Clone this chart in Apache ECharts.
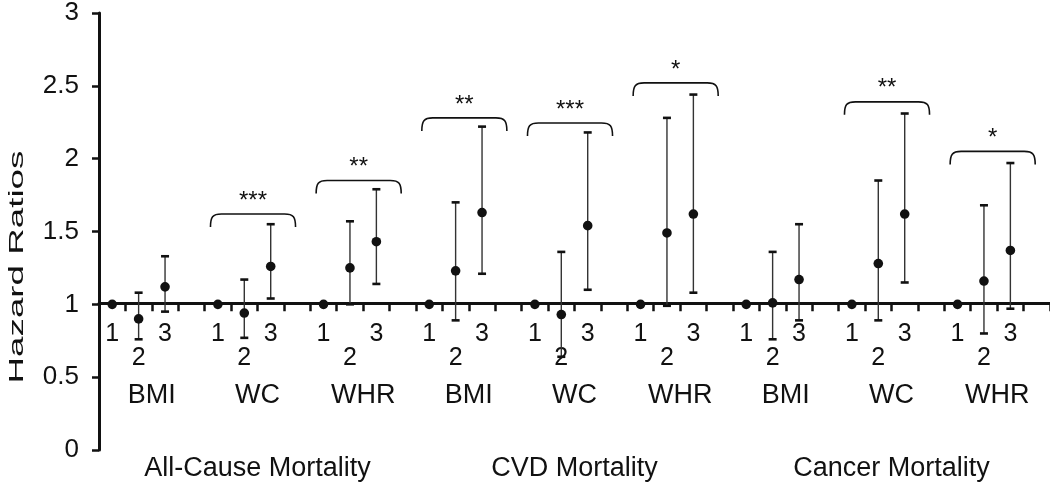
<!DOCTYPE html>
<html>
<head>
<meta charset="utf-8">
<script src="https://cdn.jsdelivr.net/npm/echarts@6/dist/echarts.min.js"></script>
<style>
  html, body { margin: 0; background: #fff; }
  #chart { width: 1050px; height: 487px; }
</style>
</head>
<body>
<div id="chart"></div>
<script>
// tertile slots in each group (4th slot is the gap between groups)
const slotLabels = ['1', '2', '3', ''];
const measures = ['BMI', 'WC', 'WHR', 'BMI', 'WC', 'WHR', 'BMI', 'WC', 'WHR'];
const outcomes = ['All-Cause Mortality', 'CVD Mortality', 'Cancer Mortality'];

// tertile 1 is the reference (HR = 1)
const hr2 = [0.90, 0.94, 1.25, 1.23, 0.93, 1.49, 1.01, 1.28, 1.16];
const lo2 = [0.76, 0.77, 1.00, 0.89, 0.64, 0.99, 0.76, 0.89, 0.80];
const hi2 = [1.08, 1.17, 1.57, 1.70, 1.36, 2.28, 1.36, 1.85, 1.68];
const hr3 = [1.12, 1.26, 1.43, 1.63, 1.54, 1.62, 1.17, 1.62, 1.37];
const lo3 = [0.95, 1.04, 1.14, 1.21, 1.10, 1.08, 0.89, 1.15, 0.97];
const hi3 = [1.33, 1.55, 1.79, 2.22, 2.18, 2.44, 1.55, 2.31, 1.97];

// significance brackets
const bracketGroups = [1, 2, 3, 4, 5, 7, 8];
const bracketLevels = [1.62, 1.85, 2.28, 2.245, 2.52, 2.39, 2.05];
const bracketStars = ['***', '**', '**', '***', '*', '**', '*'];

const font = "'Liberation Sans', Arial, Helvetica, sans-serif";
const ink = '#111';
const gridH = 440;

const slots = [];
measures.forEach(() => slotLabels.forEach(s => slots.push(s)));

const points = [];
measures.forEach((m, g) => {
  points.push([g * 4, 1, 1, 1]);
  points.push([g * 4 + 1, hr2[g], lo2[g], hi2[g]]);
  points.push([g * 4 + 2, hr3[g], lo3[g], hi3[g]]);
});

const bracketData = bracketGroups.map((g, i) => [g * 4, bracketLevels[i]]);

const chart = echarts.init(document.getElementById('chart'));

chart.setOption({
  backgroundColor: '#fff',
  animation: false,
  grid: { left: 99, top: 10, width: 973, height: gridH },
  graphic: [{
    type: 'text',
    x: 17, y: 267,
    rotation: Math.PI / 2,
    scaleX: 1.75,
    style: {
      text: 'Hazard Ratios', fontSize: 21, fontFamily: font, fill: ink,
      align: 'center', verticalAlign: 'middle'
    }
  }],
  xAxis: [
    {
      type: 'category', data: slots, position: 'bottom', offset: -gridH / 3,
      axisLine: { onZero: false, lineStyle: { color: ink, width: 3 } },
      axisTick: { show: true, interval: 0, length: 8, lineStyle: { color: ink, width: 2.5 } },
      axisLabel: {
        interval: 0, margin: 19, fontSize: 25, lineHeight: 24, color: ink, fontFamily: font,
        formatter: v => (v === '2' ? '\n2' : v)
      }
    },
    {
      type: 'category', data: measures, position: 'bottom', offset: -gridH / 3,
      axisLine: { show: false }, axisTick: { show: false },
      axisLabel: { interval: 0, margin: 79, fontSize: 27, color: ink, fontFamily: font }
    },
    {
      type: 'category', data: outcomes, position: 'bottom', offset: 0,
      axisLine: { show: false }, axisTick: { show: false },
      axisLabel: { interval: 0, margin: 5, fontSize: 27, color: ink, fontFamily: font }
    }
  ],
  yAxis: {
    type: 'value', min: 0, max: 3, interval: 0.5,
    splitLine: { show: false },
    axisLine: { show: true, lineStyle: { color: ink, width: 3 } },
    axisTick: { show: true, length: 7, lineStyle: { color: ink, width: 2.5 } },
    axisLabel: { margin: 20, fontSize: 26, color: ink, fontFamily: font }
  },
  series: [
    {
      type: 'custom',
      xAxisIndex: 0,
      data: points,
      renderItem(params, api) {
        const idx = api.value(0);
        const p = api.coord([idx, api.value(1)]);
        const lo = api.coord([idx, api.value(2)]);
        const hi = api.coord([idx, api.value(3)]);
        const kids = [];
        if (api.value(2) !== api.value(3)) {
          const cap = 4;
          kids.push({ type: 'line', shape: { x1: p[0], y1: hi[1], x2: p[0], y2: lo[1] },
            style: { stroke: '#333', lineWidth: 1.4 } });
          kids.push({ type: 'line', shape: { x1: p[0] - cap, y1: hi[1], x2: p[0] + cap, y2: hi[1] },
            style: { stroke: ink, lineWidth: 2.6 } });
          kids.push({ type: 'line', shape: { x1: p[0] - cap, y1: lo[1], x2: p[0] + cap, y2: lo[1] },
            style: { stroke: ink, lineWidth: 2.6 } });
        }
        kids.push({ type: 'circle', shape: { cx: p[0], cy: p[1], r: 4.8 }, style: { fill: ink } });
        return { type: 'group', children: kids };
      }
    },
    {
      type: 'custom',
      xAxisIndex: 0,
      data: bracketData,
      renderItem(params, api) {
        const c = api.coord([api.value(0), api.value(1)]);
        const w = api.size([1, 0])[0];
        const L = c[0] - w / 2 + 0.22 * w;
        const R = c[0] - w / 2 + 3.44 * w;
        const T = c[1];
        const d = 13;
        const path = `M${L},${T + d} C${L},${T + 3} ${L + 2},${T} ${L + 11},${T} ` +
          `L${R - 11},${T} C${R - 2},${T} ${R},${T + 3} ${R},${T + d}`;
        return {
          type: 'group',
          children: [
            { type: 'path', shape: { pathData: path },
              style: { stroke: ink, lineWidth: 1.6, fill: null } },
            { type: 'text',
              style: { text: bracketStars[params.dataIndex], x: (L + R) / 2, y: T - 13,
                align: 'center', verticalAlign: 'middle', textAlign: 'center',
                textVerticalAlign: 'middle', fontSize: 24, fontFamily: font, fill: ink } }
          ]
        };
      }
    }
  ]
});
</script>
</body>
</html>
